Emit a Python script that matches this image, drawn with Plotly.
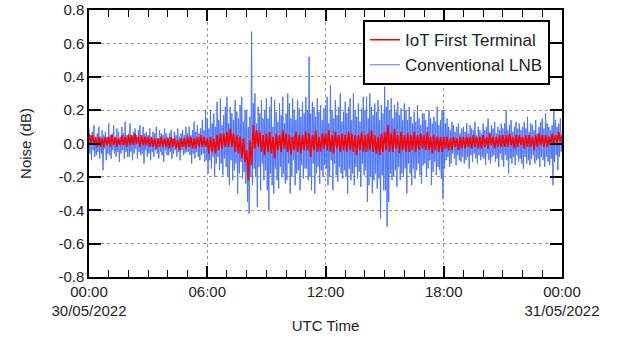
import pandas as pd
import plotly.graph_objects as go

# Conventional LNB noise (dB), 2.5-minute samples, 00:00 30/05 -> 00:00 31/05
lnb = [
    0.09, -0.06, 0.05, -0.10, 0.07, -0.04, 0.11, -0.08, 0.03, -0.07, 0.06, -0.05,
    0.10, -0.09, 0.04, -0.06, 0.08, -0.16, 0.05, -0.03, 0.07, -0.10, 0.04, -0.06,
    0.12, -0.07, 0.05, -0.09, 0.06, -0.04, 0.11, -0.06, 0.03, -0.08, 0.09, -0.05,
    0.07, -0.11, 0.04, -0.06, 0.10, -0.04, 0.06, -0.09, 0.13, -0.05, 0.05, -0.08,
    0.06, -0.08, 0.12, -0.05, 0.04, -0.10, 0.07, -0.06, 0.09, -0.03, 0.05, -0.09,
    0.08, -0.05, 0.11, -0.07, 0.04, -0.06, 0.10, -0.12, 0.06, -0.04, 0.07, -0.08,
    0.05, -0.06, 0.09, -0.10, 0.04, -0.05, 0.07, -0.08, 0.06, -0.04, 0.10, -0.06,
    0.03, -0.09, 0.08, -0.05, 0.06, -0.07, 0.05, -0.11, 0.09, -0.04, 0.06, -0.07,
    0.04, -0.07, 0.06, -0.05, 0.08, -0.09, 0.03, -0.06, 0.07, -0.04, 0.05, -0.08,
    0.09, -0.05, 0.04, -0.10, 0.06, -0.04, 0.08, -0.07, 0.05, -0.06, 0.10, -0.05,
    0.06, -0.05, 0.10, -0.07, 0.05, -0.12, 0.08, -0.06, 0.13, -0.09, 0.07, -0.05,
    0.11, -0.08, 0.06, -0.10, 0.09, -0.07, 0.14, -0.06, 0.08, -0.11, 0.20, -0.10,
    0.15, -0.18, 0.09, -0.10, 0.20, -0.15, 0.12, -0.08, 0.18, -0.20, 0.10, -0.12,
    0.25, -0.08, 0.14, -0.16, 0.27, -0.12, 0.11, -0.19, 0.17, -0.09, 0.22, -0.14,
    0.28, -0.20, 0.12, -0.25, 0.22, -0.10, 0.18, -0.22, 0.14, -0.16, 0.26, -0.12,
    0.19, -0.30, 0.15, -0.18, 0.23, -0.11, 0.28, -0.21, 0.13, -0.17, 0.20, -0.24,
    0.20, -0.35, 0.10, -0.42, 0.16, -0.20, 0.67, -0.25, 0.24, -0.15, 0.30, -0.20,
    0.12, -0.38, 0.22, -0.14, 0.18, -0.28, 0.26, -0.12, 0.15, -0.22, 0.20, -0.16,
    0.27, -0.28, 0.15, -0.40, 0.22, -0.18, 0.28, -0.25, 0.10, -0.30, 0.26, -0.15,
    0.19, -0.22, 0.13, -0.27, 0.24, -0.14, 0.17, -0.20, 0.28, -0.18, 0.12, -0.24,
    0.18, -0.22, 0.30, -0.12, 0.24, -0.30, 0.15, -0.20, 0.27, -0.10, 0.20, -0.25,
    0.14, -0.18, 0.26, -0.16, 0.21, -0.28, 0.16, -0.13, 0.25, -0.21, 0.18, -0.15,
    0.28, -0.15, 0.20, -0.22, 0.52, -0.20, 0.18, -0.28, 0.25, -0.12, 0.22, -0.30,
    0.16, -0.18, 0.27, -0.14, 0.19, -0.24, 0.23, -0.16, 0.14, -0.20, 0.21, -0.13,
    0.23, -0.15, 0.28, -0.25, 0.12, -0.20, 0.35, -0.10, 0.20, -0.28, 0.15, -0.12,
    0.26, -0.19, 0.17, -0.23, 0.22, -0.14, 0.30, -0.18, 0.13, -0.21, 0.19, -0.16,
    0.25, -0.20, 0.18, -0.30, 0.22, -0.15, 0.27, -0.22, 0.14, -0.18, 0.30, -0.25,
    0.20, -0.14, 0.16, -0.21, 0.24, -0.17, 0.13, -0.26, 0.21, -0.12, 0.28, -0.19,
    0.20, -0.16, 0.28, -0.35, 0.15, -0.25, 0.30, -0.20, 0.22, -0.30, 0.17, -0.22,
    0.24, -0.18, 0.19, -0.27, 0.26, -0.21, 0.14, -0.45, 0.23, -0.19, 0.18, -0.28,
    0.34, -0.28, 0.22, -0.50, 0.26, -0.35, 0.20, -0.18, 0.27, -0.22, 0.15, -0.20,
    0.23, -0.16, 0.19, -0.26, 0.25, -0.14, 0.17, -0.22, 0.21, -0.18, 0.14, -0.20,
    0.24, -0.15, 0.20, -0.30, 0.14, -0.12, 0.22, -0.18, 0.16, -0.25, 0.12, -0.15,
    0.19, -0.21, 0.13, -0.16, 0.23, -0.12, 0.15, -0.19, 0.11, -0.24, 0.18, -0.13,
    0.18, -0.12, 0.14, -0.20, 0.10, -0.15, 0.20, -0.10, 0.15, -0.25, 0.12, -0.17,
    0.16, -0.11, 0.13, -0.19, 0.22, -0.14, 0.11, -0.16, 0.14, -0.21, 0.20, -0.33,
    0.20, -0.15, 0.12, -0.10, 0.15, -0.08, 0.10, -0.14, 0.08, -0.12, 0.13, -0.06,
    0.11, -0.09, 0.07, -0.13, 0.10, -0.07, 0.12, -0.10, 0.06, -0.11, 0.09, -0.08,
    0.10, -0.12, 0.07, -0.10, 0.12, -0.08, 0.06, -0.15, 0.11, -0.07, 0.09, -0.11,
    0.08, -0.06, 0.13, -0.09, 0.05, -0.12, 0.10, -0.07, 0.08, -0.10, 0.06, -0.08,
    0.12, -0.09, 0.08, -0.13, 0.10, -0.06, 0.15, -0.10, 0.07, -0.12, 0.11, -0.08,
    0.09, -0.07, 0.13, -0.11, 0.06, -0.09, 0.10, -0.14, 0.08, -0.06, 0.12, -0.10,
    0.09, -0.14, 0.12, -0.07, 0.20, -0.10, 0.08, -0.18, 0.11, -0.09, 0.14, -0.12,
    0.07, -0.08, 0.10, -0.13, 0.13, -0.07, 0.09, -0.11, 0.12, -0.09, 0.08, -0.12,
    0.10, -0.15, 0.13, -0.08, 0.09, -0.12, 0.16, -0.10, 0.07, -0.13, 0.12, -0.09,
    0.11, -0.07, 0.08, -0.12, 0.14, -0.10, 0.06, -0.09, 0.10, -0.14, 0.13, -0.08,
    0.15, -0.10, 0.09, -0.14, 0.18, -0.08, 0.12, -0.11, 0.10, -0.13, 0.08, -0.09,
    0.11, -0.25, 0.20, -0.11, 0.14, -0.07, 0.10, -0.16, 0.12, -0.08, 0.15, -0.05,
    0.05,
]

# IoT First Terminal noise (dB), 5-minute samples
iot = [
    0.06, 0.00, 0.05, -0.01, 0.04, -0.02, 0.04, -0.02, 0.03, -0.02, 0.04, -0.01,
    0.04, -0.02, 0.05, -0.01, 0.04, -0.02, 0.03, -0.01, 0.05, -0.01, 0.04, -0.02,
    0.05, -0.01, 0.05, -0.01, 0.06, 0.00, 0.04, -0.02, 0.05, -0.01, 0.04, -0.01,
    0.04, -0.02, 0.04, -0.02, 0.03, -0.03, 0.03, -0.02, 0.04, -0.02, 0.03, -0.02,
    0.03, -0.03, 0.04, -0.02, 0.03, -0.03, 0.02, -0.04, 0.03, -0.02, 0.03, -0.03,
    0.04, -0.02, 0.04, -0.03, 0.03, -0.03, 0.04, -0.02, 0.05, -0.02, 0.04, -0.02,
    0.03, -0.06, 0.04, -0.05, 0.03, -0.06, 0.05, -0.04, 0.06, -0.03, 0.06, -0.02,
    0.07, -0.02, 0.09, -0.02, 0.06, -0.05, 0.05, -0.06, 0.04, -0.09, 0.03, -0.11,
    -0.04, -0.22, 0.02, -0.13, 0.11, -0.03, 0.08, -0.02, 0.07, -0.05, 0.05, -0.07,
    0.06, -0.05, 0.07, -0.06, 0.04, -0.09, 0.06, -0.04, 0.05, -0.05, 0.08, -0.03,
    0.06, -0.05, 0.05, -0.07, 0.04, -0.04, 0.07, -0.05, 0.05, -0.06, 0.05, -0.04,
    0.07, -0.04, 0.06, -0.08, 0.05, -0.04, 0.08, -0.05, 0.04, -0.05, 0.06, -0.03,
    0.06, -0.04, 0.08, -0.05, 0.05, -0.06, 0.07, -0.03, 0.05, -0.05, 0.06, -0.04,
    0.05, -0.05, 0.07, -0.04, 0.06, -0.05, 0.05, -0.07, 0.05, -0.04, 0.07, -0.05,
    0.05, -0.05, 0.06, -0.04, 0.08, -0.05, 0.05, -0.06, 0.04, -0.07, 0.06, -0.05,
    0.07, -0.04, 0.11, -0.05, 0.06, -0.05, 0.09, -0.03, 0.05, -0.06, 0.07, -0.04,
    0.05, -0.05, 0.06, -0.05, 0.05, -0.04, 0.07, -0.05, 0.05, -0.04, 0.06, -0.03,
    0.05, -0.04, 0.07, -0.04, 0.04, -0.06, 0.05, -0.04, 0.04, -0.05, 0.04, -0.05,
    0.04, -0.03, 0.04, -0.04, 0.03, -0.04, 0.04, -0.02, 0.03, -0.04, 0.04, -0.03,
    0.04, -0.03, 0.04, -0.02, 0.04, -0.03, 0.05, -0.02, 0.04, -0.03, 0.04, -0.03,
    0.05, -0.02, 0.04, -0.03, 0.06, -0.01, 0.04, -0.03, 0.04, -0.02, 0.05, -0.02,
    0.05, -0.02, 0.05, -0.02, 0.06, -0.01, 0.04, -0.03, 0.05, -0.02, 0.05, -0.01,
    0.04, -0.03, 0.05, -0.02, 0.05, -0.02, 0.04, -0.04, 0.05, -0.02, 0.06, -0.01,
    0.05, -0.02, 0.05, -0.02, 0.04, -0.01, 0.06, -0.01, 0.05, 0.00, 0.07, 0.01,
    0.05,
]

t_start = "2022-05-30 00:00"
t_end = "2022-05-31 00:00"
times_lnb = pd.date_range(t_start, t_end, periods=len(lnb))
times_iot = pd.date_range(t_start, t_end, periods=len(iot))

x_tickvals = ["2022-05-30 00:00", "2022-05-30 06:00", "2022-05-30 12:00",
              "2022-05-30 18:00", "2022-05-31 00:00"]
x_ticktext = ["00:00<br>30/05/2022", "06:00", "12:00", "18:00", "00:00<br>31/05/2022"]
y_tickvals = [0.8, 0.6, 0.4, 0.2, 0.0, -0.2, -0.4, -0.6, -0.8]
y_ticktext = ["0.8", "0.6", "0.4", "0.2", "0.0", "-0.2", "-0.4", "-0.6", "-0.8"]

FONT = "Liberation Sans, Arial, sans-serif"

fig = go.Figure()
fig.add_trace(go.Scatter(x=times_lnb, y=lnb, mode="lines", name="Conventional LNB",
                         line=dict(color="#4a74ff", width=1)))
fig.add_trace(go.Scatter(x=times_iot, y=iot, mode="lines", name="IoT First Terminal",
                         line=dict(color="#ff0000", width=1.6)))

fig.update_layout(
    width=627, height=340,
    margin=dict(l=89, r=65, t=10, b=63, autoexpand=False),
    paper_bgcolor="white", plot_bgcolor="white",
    font=dict(family=FONT, size=14, color="#222"),
    legend=dict(x=0.9746, y=0.962, xanchor="right", yanchor="top",
                bordercolor="black", borderwidth=2, bgcolor="white",
                traceorder="reversed", font=dict(size=17),
                itemwidth=30, tracegroupgap=0),
    showlegend=True,
)
fig.update_xaxes(
    range=[t_start, t_end], tickmode="array", tickvals=x_tickvals, ticktext=x_ticktext,
    ticks="inside", ticklen=11, tickcolor="black", tickwidth=1.5,
    showline=True, linecolor="black", linewidth=1.5, mirror="ticks",
    showgrid=True, gridcolor="#999", griddash="dot", gridwidth=1,
    minor=dict(dtick=3600000, tick0=t_start, ticks="inside", ticklen=7,
               tickcolor="black", tickwidth=1, showgrid=False),
    title=dict(text="UTC Time", font=dict(size=15), standoff=2),
    tickfont=dict(size=15), automargin=False,
)
fig.update_yaxes(
    range=[-0.8, 0.8], tickmode="array", tickvals=y_tickvals, ticktext=y_ticktext,
    ticks="inside", ticklen=12, tickcolor="black", tickwidth=1.5,
    showline=True, linecolor="black", linewidth=1.5, mirror="ticks",
    showgrid=True, gridcolor="#999", griddash="dot", gridwidth=1,
    zeroline=False,
    title=dict(text="Noise (dB)", font=dict(size=15), standoff=23),
    tickfont=dict(size=15), automargin=False,
)

fig.write_html("out.html", config={"displayModeBar": False},
               post_script="document.body.style.margin='0';")
